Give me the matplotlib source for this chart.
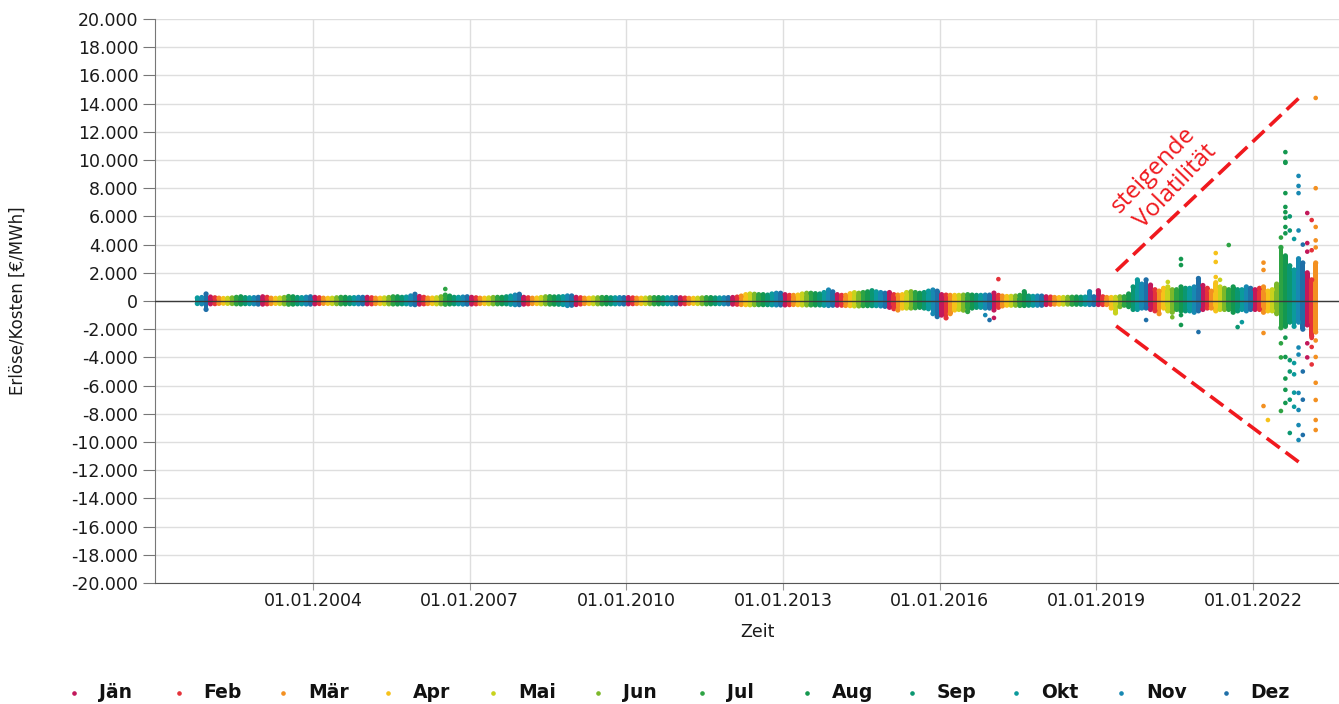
import datetime as dt
import numpy as np
import matplotlib
matplotlib.use("Agg")
import matplotlib.pyplot as plt
import matplotlib.dates as mdates
from matplotlib.ticker import FuncFormatter, MultipleLocator
from matplotlib.lines import Line2D

plt.rcParams['font.family'] = ['DejaVu Sans']

n = np.nan
month_names = ["Jän", "Feb", "Mär", "Apr", "Mai", "Jun",
               "Jul", "Aug", "Sep", "Okt", "Nov", "Dez"]
month_colors = ["#c2185b", "#e5323a", "#f39021", "#f6c21a", "#c8d21d", "#7cb82a",
                "#2da343", "#14984f", "#0b9771", "#0b9a9c", "#1788b2", "#1f6fa8"]

years = list(range(2001, 2024))

# monthly upper edge of the dense cloud (€/MWh), Jan..Dec
band_hi = [
    [n, n, n, n, n, n, n, n, n, 220, 250, 500],                               # 2001
    [280, 230, 200, 180, 190, 220, 260, 300, 240, 230, 240, 260],             # 2002
    [300, 260, 200, 190, 210, 250, 320, 300, 250, 240, 270, 300],             # 2003
    [260, 230, 200, 190, 200, 230, 260, 260, 230, 240, 260, 260],             # 2004
    [260, 230, 200, 200, 220, 250, 300, 300, 260, 280, 360, 480],             # 2005
    [320, 260, 210, 210, 230, 300, 420, 350, 260, 260, 280, 300],             # 2006
    [260, 230, 200, 200, 220, 250, 260, 260, 300, 350, 420, 480],             # 2007
    [260, 230, 200, 210, 250, 300, 310, 290, 300, 310, 360, 360],             # 2008
    [260, 230, 200, 200, 220, 230, 250, 250, 230, 230, 240, 240],             # 2009
    [240, 220, 200, 200, 210, 230, 240, 240, 230, 230, 240, 240],             # 2010
    [230, 210, 190, 190, 200, 220, 240, 240, 220, 220, 230, 240],             # 2011
    [250, 280, 350, 450, 500, 480, 450, 450, 420, 500, 550, 550],             # 2012
    [450, 400, 400, 420, 500, 550, 550, 520, 500, 600, 780, 650],             # 2013
    [450, 400, 400, 520, 590, 550, 600, 650, 730, 650, 600, 550],             # 2014
    [600, 450, 420, 450, 600, 660, 600, 550, 600, 700, 780, 700],             # 2015
    [450, 420, 400, 400, 400, 420, 450, 420, 400, 400, 420, 420],             # 2016
    [560, 400, 350, 320, 330, 350, 400, 660, 350, 330, 350, 350],             # 2017
    [300, 280, 250, 240, 250, 260, 270, 280, 270, 280, 660, 300],             # 2018
    [730, 300, 250, 250, 260, 300, 300, 500, 1000, 1500, 1200, 1500],         # 2019
    [1130, 800, 700, 900, 1000, 800, 800, 1000, 900, 900, 1000, 1600],        # 2020
    [1100, 900, 700, 1300, 1000, 900, 800, 1000, 800, 800, 1000, 900],        # 2021
    [800, 900, 1000, 700, 800, 1200, 3800, 3200, 2500, 2200, 3000, 2700],     # 2022
    [2000, 1500, 2700, n, n, n, n, n, n, n, n, n],                            # 2023
]

# monthly lower edge of the dense cloud (€/MWh), Jan..Dec
band_lo = [
    [n, n, n, n, n, n, n, n, n, -180, -200, -600],
    [-200, -190, -170, -160, -170, -180, -200, -210, -190, -190, -200, -220],
    [-220, -200, -180, -170, -180, -200, -230, -220, -200, -200, -210, -220],
    [-200, -180, -170, -170, -180, -190, -200, -200, -190, -190, -200, -200],
    [-200, -200, -180, -180, -190, -200, -210, -210, -200, -200, -230, -260],
    [-220, -200, -180, -180, -200, -200, -230, -210, -200, -200, -220, -220],
    [-210, -200, -180, -180, -190, -200, -200, -200, -200, -230, -260, -260],
    [-220, -200, -180, -180, -200, -200, -220, -220, -230, -250, -320, -300],
    [-250, -210, -180, -180, -190, -200, -200, -200, -200, -200, -200, -210],
    [-200, -190, -180, -180, -180, -190, -200, -200, -190, -190, -200, -200],
    [-200, -190, -170, -170, -180, -190, -200, -200, -190, -190, -200, -200],
    [-220, -230, -250, -260, -270, -260, -260, -260, -260, -270, -280, -280],
    [-280, -260, -250, -260, -280, -280, -280, -280, -280, -300, -320, -300],
    [-300, -300, -320, -330, -350, -350, -330, -330, -330, -330, -350, -380],
    [-450, -550, -640, -500, -500, -500, -480, -450, -500, -550, -900, -1110],
    [-1000, -1200, -900, -640, -600, -650, -750, -500, -450, -450, -500, -500],
    [-640, -450, -350, -300, -300, -300, -320, -320, -300, -300, -300, -300],
    [-250, -230, -220, -220, -220, -220, -230, -230, -230, -230, -250, -250],
    [-250, -250, -250, -500, -850, -400, -300, -400, -600, -600, -500, -500],
    [-600, -700, -900, -500, -700, -800, -600, -700, -700, -700, -800, -700],
    [-600, -500, -500, -700, -600, -600, -600, -800, -700, -600, -700, -600],
    [-600, -600, -800, -700, -700, -900, -1900, -1800, -1500, -1800, -1500, -2000],
    [-1700, -2500, -2200, n, n, n, n, n, n, n, n, n],
]

# isolated points outside the dense cloud: year, month, value (€/MWh)
out_year = [2006, 2016, 2016, 2017, 2017, 2019, 2020, 2020, 2020, 2020, 2020, 2020, 2020,
            2021, 2021, 2021, 2021, 2021, 2021, 2021,
            2022, 2022, 2022, 2022, 2022,
            2022, 2022, 2022, 2022,
            2022, 2022, 2022, 2022, 2022, 2022, 2022, 2022, 2022, 2022, 2022, 2022, 2022, 2022,
            2022, 2022, 2022, 2022, 2022, 2022,
            2022, 2022, 2022, 2022, 2022,
            2022, 2022, 2022, 2022, 2022, 2022, 2022, 2022, 2022, 2022,
            2022, 2022, 2022, 2022,
            2023, 2023, 2023, 2023, 2023,
            2023, 2023, 2023, 2023, 2023,
            2023, 2023, 2023, 2023, 2023, 2023, 2023, 2023, 2023, 2023, 2023]
out_month = [7, 11, 12, 1, 2, 12, 5, 6, 8, 8, 8, 8, 12,
             4, 4, 4, 5, 7, 9, 10,
             3, 3, 3, 3, 4,
             7, 7, 7, 7,
             8, 8, 8, 8, 8, 8, 8, 8, 8, 8, 8, 8, 8, 8,
             9, 9, 9, 9, 9, 9,
             10, 10, 10, 10, 10,
             11, 11, 11, 11, 11, 11, 11, 11, 11, 11,
             12, 12, 12, 12,
             1, 1, 1, 1, 1,
             2, 2, 2, 2, 2,
             3, 3, 3, 3, 3, 3, 3, 3, 3, 3, 3]
out_value = [850, -1000, -1350, -1200, 1550, -1350, 1350, -1150, 2980, 2550, -1000, -1700, -2200,
             3400, 2770, 1700, 1500, 3970, -1850, -1500,
             2720, 2200, -2270, -7450, -8440,
             4500, -3000, -4000, -7800,
             10560, 9860, 9800, 7650, 6670, 6300, 5900, 5250, 4800, -2600, -3970, -5500, -6300, -7230,
             6000, 5000, -4200, -5000, -7000, -9360,
             4400, -4400, -5200, -6500, -7500,
             8870, 8160, 7650, 5000, -3300, -3800, -6520, -7730, -8800, -9860,
             4000, -5000, -7000, -9500,
             6240, 4110, 3500, -3000, -4000,
             5740, 3600, -2620, -3260, -4500,
             14400, 8000, 5250, 4300, 3800, -2800, -3970, -5800, -7020, -8440, -9150]

x_tick_years = [2004, 2007, 2010, 2013, 2016, 2019, 2022]

# ---------------------------------------------------------------- figure
W, H = 1339, 704
fig = plt.figure(figsize=(W / 100, H / 100), dpi=100)
ax = fig.add_axes([155 / W, 1 - 583 / H, 1 - 155 / W, (583 - 19) / H])

# dense monthly clouds
bx, bh, bb, bc = [], [], [], []
for yi, year in enumerate(years):
    for m in range(12):
        hi, lo = band_hi[yi][m], band_lo[yi][m]
        if np.isnan(hi):
            continue
        bx.append(dt.datetime(year, m + 1, 15))
        bb.append(lo)
        bh.append(hi - lo)
        bc.append(month_colors[m])
bx_num = mdates.date2num(bx)
ax.bar(bx_num, bh, bottom=bb, width=33, color=bc, linewidth=0, antialiased=False, zorder=2)
ax.scatter(bx_num, np.array(bb) + np.array(bh), s=14, c=bc, linewidths=0, zorder=2)
ax.scatter(bx_num, bb, s=14, c=bc, linewidths=0, zorder=2)

# isolated points
ox = mdates.date2num([dt.datetime(y, m, 15) for y, m in zip(out_year, out_month)])
oc = [month_colors[m - 1] for m in out_month]
ax.scatter(ox, out_value, s=11, c=oc, linewidths=0, zorder=2)

ax.axhline(0, color="#3a3a3a", lw=1.0, zorder=3)

# axes styling
ax.set_ylim(-20000, 20000)
ax.yaxis.set_major_locator(MultipleLocator(2000))
ax.yaxis.set_major_formatter(FuncFormatter(lambda v, p: f"{int(round(v)):,}".replace(",", ".")))
x0 = mdates.date2num(dt.datetime(2000, 12, 23))
x1 = mdates.date2num(dt.datetime(2023, 8, 25))
ax.set_xlim(x0, x1)
ax.set_xticks(mdates.date2num([dt.datetime(y, 1, 1) for y in x_tick_years]))
ax.xaxis.set_major_formatter(mdates.DateFormatter("%d.%m.%Y"))

ax.grid(True, color="#dedede", lw=1)
ax.set_axisbelow(True)
for s in ["top", "right"]:
    ax.spines[s].set_visible(False)
ax.spines["left"].set_color("#777777")
ax.spines["bottom"].set_color("#555555")
ax.tick_params(axis="y", length=9, color="#777777", labelsize=12.5, labelcolor="#1a1a1a", pad=3)
ax.tick_params(axis="x", length=5, color="#999999", labelsize=12.5, labelcolor="#1a1a1a", pad=1.5)

fig.text(18 / W, 1 - 301 / H, "Erlöse/Kosten [€/MWh]", rotation=90, ha="center", va="center",
         fontsize=12, color="#1a1a1a")
fig.text(757 / W, 1 - 632 / H, "Zeit", ha="center", va="center", fontsize=12.5, color="#1a1a1a")

# annotation: rising volatility
def fy(v):
    y = int(v)
    return mdates.date2num(dt.datetime(y, 1, 1) + dt.timedelta(days=(v - y) * 365.25))

red = "#f0191e"
ax.plot([fy(2019.38), fy(2022.94)], [2130, 14610], color=red, lw=2.6, ls=(0, (4.5, 2)), zorder=4)
ax.plot([fy(2019.38), fy(2022.90)], [-1770, -11490], color=red, lw=2.6, ls=(0, (4.5, 2)), zorder=4)
ax.text(fy(2020.10), 9300, "steigende", color=red, fontsize=17.5, rotation=46,
        ha="center", va="center", rotation_mode="anchor", family="Open Sans", zorder=5)
ax.text(fy(2020.53), 8150, "Volatilität", color=red, fontsize=17.5, rotation=46,
        ha="center", va="center", rotation_mode="anchor", family="Open Sans", zorder=5)

# legend
for i, (name, col) in enumerate(zip(month_names, month_colors)):
    xm = (74 + 104.7 * i) / W
    ym = 1 - 693 / H
    fig.add_artist(Line2D([xm], [ym], marker="o", markersize=2.3, color=col, lw=0,
                          transform=fig.transFigure))
    fig.text(xm + 25 / W, ym, name, ha="left", va="center", fontsize=13.5,
             fontweight="bold", color="#111111")

fig.savefig("out.png", dpi=100)
